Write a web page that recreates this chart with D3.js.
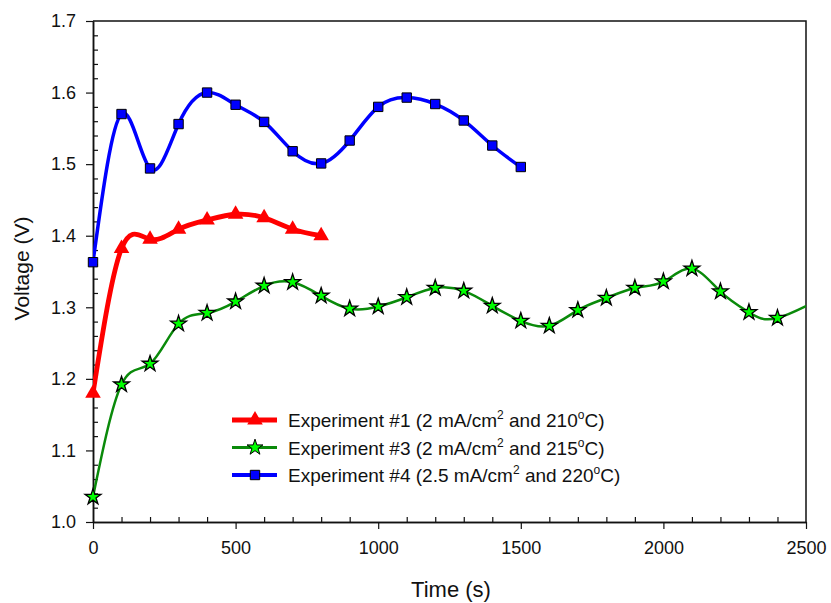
<!DOCTYPE html>
<html>
<head>
<meta charset="utf-8">
<script src="https://cdn.jsdelivr.net/npm/d3@7"></script>
<style>
  html, body { margin: 0; padding: 0; background: #fff; }
  svg { display: block; font-family: Arial, "Liberation Sans", sans-serif; }
</style>
</head>
<body>
<svg id="chart" width="831" height="603"></svg>
<script>
// ---------------- data ----------------
const timeExp1 = [0, 100, 200, 300, 400, 500, 600, 700, 800];
const voltExp1 = [1.180, 1.382, 1.395, 1.409, 1.422, 1.430, 1.425, 1.409, 1.400];

const timeExp3 = [0, 100, 200, 300, 400, 500, 600, 700, 800, 900, 1000, 1100, 1200,
                  1300, 1400, 1500, 1600, 1700, 1800, 1900, 2000, 2100, 2200, 2300, 2400];
const voltExp3 = [1.035, 1.192, 1.221, 1.277, 1.292, 1.308, 1.330, 1.335, 1.316, 1.298, 1.301, 1.314, 1.327,
                  1.323, 1.302, 1.281, 1.274, 1.296, 1.313, 1.327, 1.336, 1.354, 1.322, 1.293, 1.285];
// continuation of Exp #3 beyond the visible axis range (line only, clipped)
const timeExp3Tail = [2600];
const voltExp3Tail = [1.322];

const timeExp4 = [0, 100, 200, 300, 400, 500, 600, 700, 800, 900, 1000, 1100, 1200, 1300, 1400, 1500];
const voltExp4 = [1.363, 1.570, 1.494, 1.556, 1.600, 1.583, 1.559, 1.518, 1.501, 1.533, 1.580, 1.593, 1.584, 1.561, 1.526, 1.496];

const xMajorTicks = [0, 500, 1000, 1500, 2000, 2500];
const yMajorTicks = [1.0, 1.1, 1.2, 1.3, 1.4, 1.5, 1.6, 1.7];
const xLabel = "Time (s)";
const yLabel = "Voltage (V)";
const legendNames = [
  ["Experiment #1 (2 mA/cm", "2", " and 210", "o", "C)"],
  ["Experiment #3 (2 mA/cm", "2", " and 215", "o", "C)"],
  ["Experiment #4 (2.5 mA/cm", "2", " and 220", "o", "C)"]
];

// ---------------- layout ----------------
const L = 93, R = 806, T = 21, B = 522;
const svg = d3.select("#chart");
const x = d3.scaleLinear().domain([0, 2500]).range([L, R]);
const y = d3.scaleLinear().domain([1.0, 1.7]).range([B, T]);

const xMinor = d3.range(0, 2501, 100).filter(v => v % 500 !== 0);
const yMinor = d3.range(100, 171, 2).map(v => v / 100).filter(v => Math.round(v * 100) % 10 !== 0);

svg.append("defs").append("clipPath").attr("id", "plotclip")
  .append("rect").attr("x", L).attr("y", T).attr("width", R - L).attr("height", B - T);

// axes: major ticks outside, minor ticks inside
const gx = svg.append("g").attr("transform", `translate(0,${B})`)
  .call(d3.axisBottom(x).tickValues(xMajorTicks).tickSize(7).tickSizeOuter(0).tickPadding(6).tickFormat(d3.format("d")));
svg.append("g").attr("transform", `translate(0,${B})`)
  .call(d3.axisTop(x).tickValues(xMinor).tickSize(5).tickSizeOuter(0).tickFormat(""));
const gy = svg.append("g").attr("transform", `translate(${L},0)`)
  .call(d3.axisLeft(y).tickValues(yMajorTicks).tickSize(7).tickSizeOuter(0).tickPadding(10).tickFormat(d3.format(".1f")));
svg.append("g").attr("transform", `translate(${L},0)`)
  .call(d3.axisRight(y).tickValues(yMinor).tickSize(5).tickSizeOuter(0).tickFormat(""));

svg.selectAll(".domain").attr("stroke", "#111").attr("stroke-width", 1.5);
svg.selectAll(".tick line").attr("stroke", "#111").attr("stroke-width", 1.2);
svg.selectAll(".tick text").attr("font-size", 18).attr("fill", "#111")
  .attr("font-family", "Arial, 'Liberation Sans', sans-serif");
gx.selectAll(".tick text").attr("dy", "1.05em");

// frame top/right
svg.append("path")
  .attr("d", `M${L},${T}H${R}V${B}`)
  .attr("fill", "none").attr("stroke", "#111").attr("stroke-width", 1.5);

// axis titles
svg.append("text").attr("x", 451).attr("y", 597)
  .attr("text-anchor", "middle").attr("font-size", 22).attr("fill", "#111").text(xLabel);
svg.append("text").attr("transform", `translate(29,${(T + B) / 2 - 3}) rotate(-90)`)
  .attr("text-anchor", "middle").attr("font-size", 21).attr("fill", "#111").text(yLabel);

// ---------------- series ----------------
const line = d3.line().x(d => x(d[0])).y(d => y(d[1])).curve(d3.curveNatural);
const zip = (a, b) => a.map((v, i) => [v, b[i]]);

const plot = svg.append("g");
const lines = plot.append("g").attr("clip-path", "url(#plotclip)");

const s3 = zip(timeExp3.concat(timeExp3Tail), voltExp3.concat(voltExp3Tail));
const s1 = zip(timeExp1, voltExp1);
const s4 = zip(timeExp4, voltExp4);

lines.append("path").datum(s3).attr("d", line).attr("fill", "none").attr("stroke", "#0a8a0a").attr("stroke-width", 2.5);
lines.append("path").datum(s1).attr("d", line).attr("fill", "none").attr("stroke", "#ff0000").attr("stroke-width", 4.8);
lines.append("path").datum(s4).attr("d", line).attr("fill", "none").attr("stroke", "#0000ff").attr("stroke-width", 3.5);

const triSym = d3.symbol().type(d3.symbolTriangle).size(105);
const starSym = d3.symbol().type(d3.symbolStar).size(78);
const sqSym = d3.symbol().type(d3.symbolSquare).size(88);

function drawMarkers(data, sym, fill, stroke, sw) {
  plot.append("g").selectAll("path").data(data).join("path")
    .attr("transform", d => `translate(${x(d[0])},${y(d[1])})`)
    .attr("d", sym)
    .attr("fill", fill).attr("stroke", stroke).attr("stroke-width", sw);
}
drawMarkers(zip(timeExp3, voltExp3), starSym, "#00ff00", "#000", 1.3);
drawMarkers(s1, triSym, "#ff0000", "none", 0);
drawMarkers(s4, sqSym, "#0000ff", "#000", 1);

// ---------------- legend ----------------
const legendStyles = [
  { color: "#ff0000", w: 5, sym: triSym, fill: "#ff0000", stroke: "none" },
  { color: "#0a8a0a", w: 3, sym: starSym, fill: "#00ff00", stroke: "#000" },
  { color: "#0000ff", w: 4, sym: sqSym, fill: "#0000ff", stroke: "#000" }
];
const lg = svg.append("g");
legendNames.forEach((parts, i) => {
  const cy = 420 + i * 27.5;
  const st = legendStyles[i];
  lg.append("line").attr("x1", 232).attr("x2", 277).attr("y1", cy).attr("y2", cy)
    .attr("stroke", st.color).attr("stroke-width", st.w);
  lg.append("path").attr("transform", `translate(255,${cy})`).attr("d", st.sym)
    .attr("fill", st.fill).attr("stroke", st.stroke).attr("stroke-width", 1);
  const t = lg.append("text").attr("x", 288).attr("y", cy + 7).attr("font-size", 19).attr("fill", "#111");
  t.append("tspan").text(parts[0]);
  t.append("tspan").attr("dy", -8).attr("font-size", 12).text(parts[1]);
  t.append("tspan").attr("dy", 8).text(parts[2]);
  t.append("tspan").attr("dy", -8).attr("font-size", 12).text(parts[3]);
  t.append("tspan").attr("dy", 8).text(parts[4]);
});
</script>
</body>
</html>
